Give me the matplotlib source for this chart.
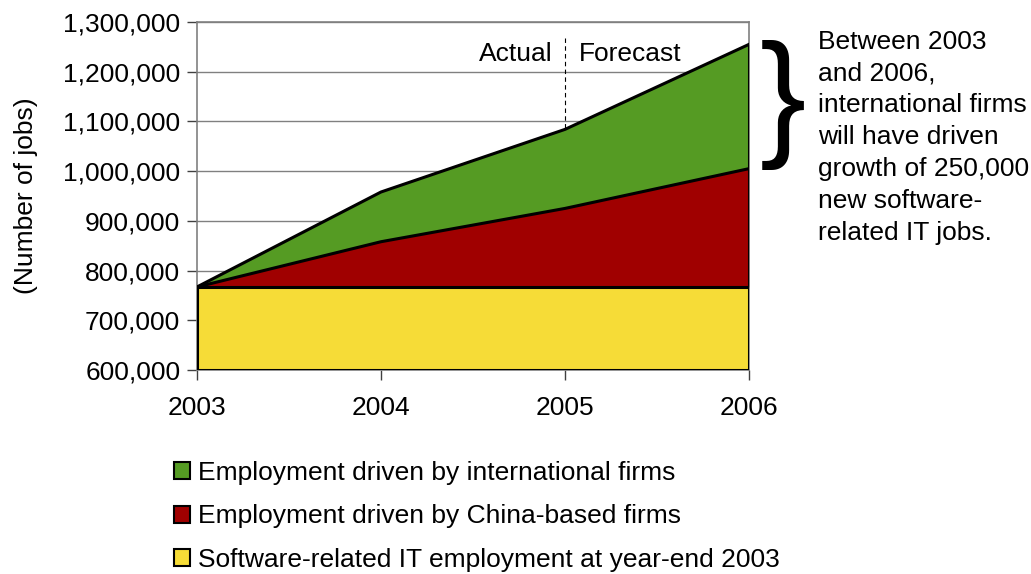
import matplotlib.pyplot as plt
from matplotlib.patches import Patch
from matplotlib.ticker import FuncFormatter

plt.rcParams['font.family'] = ['Liberation Sans', 'DejaVu Sans']

years = [2003, 2004, 2005, 2006]
base_2003 = [767000, 767000, 767000, 767000]
china_firms = [0, 91000, 158000, 238000]
intl_firms = [0, 100000, 159000, 250000]

labels = ['Employment driven by international firms',
          'Employment driven by China-based firms',
          'Software-related IT employment at year-end 2003']
colors = ['#559b23', '#a00000', '#f6dc37']
FS = 19

fig = plt.figure(figsize=(10.31, 5.74), dpi=100)
ax = fig.add_axes([0.191, 0.3554, 0.5355, 0.6063])

x = list(range(len(years)))
red_top = [b + c for b, c in zip(base_2003, china_firms)]
green_top = [r + i for r, i in zip(red_top, intl_firms)]

ax.fill_between(x, 600000, base_2003, color=colors[2], lw=0, zorder=2)
ax.fill_between(x, base_2003, red_top, color=colors[1], lw=0, zorder=2)
ax.fill_between(x, red_top, green_top, color=colors[0], lw=0, zorder=2)
for top in (base_2003, red_top, green_top):
    ax.plot(x, top, color='black', lw=2.2, zorder=3, solid_joinstyle='miter')
ax.plot([0, 0], [600000, base_2003[0]], color='black', lw=2.2, zorder=3)
ax.plot([3, 3], [600000, green_top[3]], color='black', lw=2.2, zorder=3)
ax.plot([0, 3], [600000, 600000], color='black', lw=2.2, zorder=3)

ax.set_xlim(0, 3)
ax.set_ylim(600000, 1300000)
ax.set_yticks(range(600000, 1300001, 100000))
ax.yaxis.set_major_formatter(FuncFormatter(lambda v, p: f'{int(v):,}'))
ax.set_xticks(x)
ax.set_xticklabels([str(y) for y in years])
ax.grid(axis='y', color='#808080', lw=1, zorder=1)
for s in ax.spines.values():
    s.set_color('#808080')
    s.set_linewidth(1.2)
ax.tick_params(axis='both', labelsize=FS, color='#404040', length=7, width=1, direction='out')
ax.tick_params(axis='y', pad=5)
ax.tick_params(axis='x', pad=12)
ax.set_ylabel('(Number of jobs)', fontsize=FS, labelpad=18)

# actual / forecast divider at 2005
ax.plot([2, 2], [1268000, green_top[2]], color='black', lw=0.8, ls=(0, (4, 3)), zorder=4)
ax.text(1.935, 1236000, 'Actual', ha='right', va='center', fontsize=FS, zorder=4)
ax.text(2.075, 1236000, 'Forecast', ha='left', va='center', fontsize=FS, zorder=4)

# brace and note on the right
fig.text(0.759, 0.817, '}', fontsize=100, ha='center', va='center')
fig.text(0.7935, 0.948, 'Between 2003\nand 2006,\ninternational firms\nwill have driven\n'
         'growth of 250,000\nnew software-\nrelated IT jobs.',
         ha='left', va='top', fontsize=FS, linespacing=1.41)

handles = [Patch(facecolor=c, edgecolor='black', lw=1.5) for c in colors]
fig.legend(handles, labels, loc='upper left', bbox_to_anchor=(0.169, 0.197),
           frameon=False, fontsize=FS, handlelength=0.6, handleheight=0.6,
           handletextpad=0.3, labelspacing=0.74, borderaxespad=0, borderpad=0)

fig.savefig('out.png', dpi=100, facecolor='white')
